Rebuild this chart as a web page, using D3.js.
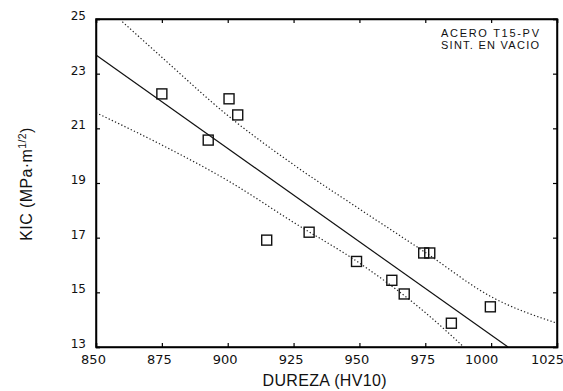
<!DOCTYPE html>
<html><head><meta charset="utf-8">
<script src="https://cdn.jsdelivr.net/npm/d3@7"></script>
<style>
body{margin:0;background:#fff;}
svg text{font-family:"Liberation Sans","DejaVu Sans",sans-serif;fill:#111;}
</style></head>
<body><svg id="c" width="563" height="391"></svg>
<script>
// Data
const hardness = [875.0, 892.6, 900.5, 903.8, 914.8, 930.9, 948.9, 962.3, 967.0, 974.4, 976.7, 984.9, 999.7];
const kic      = [22.26, 20.57, 22.08, 21.49, 16.91, 17.20, 16.13, 15.44, 14.94, 16.44, 16.44, 13.87, 14.47];
// regression line end points
const fitX = [850, 1006.4];
const fitY = [23.68, 13.0];
// upper and lower confidence bands
const upX = [860, 875, 900, 925, 950, 975, 1000, 1025];
const upY = [24.9, 23.6, 21.47, 19.67, 18.05, 16.46, 14.84, 13.87];
const loX = [850, 875, 900, 925, 950, 975, 989.6];
const loY = [21.57, 20.39, 19.09, 17.56, 16.07, 14.26, 13.0];
const xTicks = [850, 875, 900, 925, 950, 975, 1000, 1025];
const yTicks = [13, 15, 17, 19, 21, 23, 25];
const note = ["ACERO T15-PV", "SINT. EN VACIO"];

(function(){
const svg = d3.select("#c");
const m = {l:96, r:6, t:19, b:44};
const W = 563, H = 391;
const x = d3.scaleLinear().domain([850, 1025]).range([m.l, W - m.r]);
const y = d3.scaleLinear().domain([13, 25]).range([H - m.b, m.t]);

const defs = svg.append("defs");
defs.append("clipPath").attr("id","cp").append("rect")
  .attr("x", x(850)).attr("y", y(25)).attr("width", x(1025)-x(850)).attr("height", y(13)-y(25));

// axes (inward ticks on all four sides)
const gB = svg.append("g").attr("transform",`translate(0,${y(13)})`)
  .call(d3.axisBottom(x).tickValues(xTicks).tickSize(-4).tickPadding(8).tickFormat(d3.format("d")));
const gL = svg.append("g").attr("transform",`translate(${x(850)},0)`)
  .call(d3.axisLeft(y).tickValues(yTicks).tickSize(-4).tickPadding(10).tickFormat(d3.format("d")));
const gT = svg.append("g").attr("transform",`translate(0,${y(25)})`)
  .call(d3.axisTop(x).tickValues(xTicks).tickSize(-4).tickFormat(""));
const gR = svg.append("g").attr("transform",`translate(${x(1025)},0)`)
  .call(d3.axisRight(y).tickValues(yTicks).tickSize(-4).tickFormat(""));
[gB,gL,gT,gR].forEach(g=>{
  g.select(".domain").attr("stroke","#000").attr("stroke-width",1.5);
  g.selectAll(".tick line").attr("stroke","#000").attr("stroke-width",1.2);
});
gB.selectAll(".tick text").attr("font-size",13).attr("fill","#111")
  .style("font-family","'DejaVu Sans', sans-serif")
  .attr("dx", d => String(d).length > 3 ? -10 : -3);
gL.selectAll(".tick text").attr("font-size",12).attr("fill","#111")
  .style("font-family","'DejaVu Sans', sans-serif").attr("dy","0.05em");

const plot = svg.append("g").attr("clip-path","url(#cp)");
const line = d3.line().x(d=>x(d[0])).y(d=>y(d[1]));

plot.append("path").datum(fitX.map((v,i)=>[v,fitY[i]]))
  .attr("d", line).attr("fill","none").attr("stroke","#111").attr("stroke-width",1.2);
const curve = d3.line().x(d=>x(d[0])).y(d=>y(d[1])).curve(d3.curveMonotoneX);
[[upX,upY],[loX,loY]].forEach(([xs,ys])=>{
  plot.append("path").datum(xs.map((v,i)=>[v,ys[i]]))
    .attr("d", curve).attr("fill","none").attr("stroke","#222")
    .attr("stroke-width",1.2).attr("stroke-dasharray","1.3,2.2");
});

// frame and points
const s = 10;
const pg = svg.append("g");
pg.append("rect").attr("x", x(850)).attr("y", y(25))
  .attr("width", x(1025)-x(850)).attr("height", y(13)-y(25))
  .attr("fill","none").attr("stroke","#000").attr("stroke-width",1.5);
pg.selectAll("rect.pt").data(hardness.map((v,i)=>[v,kic[i]])).join("rect").attr("class","pt")
  .attr("x", d=>x(d[0])-s/2).attr("y", d=>y(d[1])-s/2)
  .attr("width", s).attr("height", s)
  .attr("fill","none").attr("stroke","#111").attr("stroke-width",1.4);

// note
svg.append("g").selectAll("text").data(note).join("text")
  .attr("x", 441).attr("y",(d,i)=>37 + i*11.5)
  .attr("font-size",11).attr("textLength",98).attr("lengthAdjust","spacing").text(d=>d);

// axis titles
svg.append("text").attr("x", 324.5).attr("y", 386)
  .attr("text-anchor","middle").attr("font-size",16)
  .attr("textLength",124).attr("lengthAdjust","spacing").text("DUREZA (HV10)");
const yl = svg.append("text").attr("transform",`translate(32,184) rotate(-90)`)
  .attr("text-anchor","middle").attr("font-size",16).attr("letter-spacing",0.4);
yl.append("tspan").text("KIC (MPa·m");
yl.append("tspan").attr("font-size",10.5).attr("dy",-6).text("1/2");
yl.append("tspan").attr("dy",6).text(")");
})();
</script></body></html>
